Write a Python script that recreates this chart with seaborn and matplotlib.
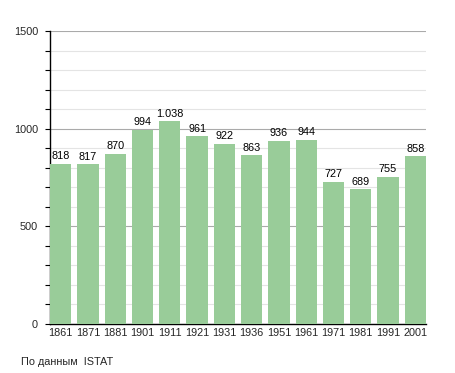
import matplotlib
matplotlib.use("Agg")
import matplotlib.pyplot as plt
import seaborn as sns
import pandas as pd
from matplotlib.ticker import MultipleLocator

years = ["1861", "1871", "1881", "1901", "1911", "1921", "1931", "1936",
         "1951", "1961", "1971", "1981", "1991", "2001"]
population = [818, 817, 870, 994, 1038, 961, 922, 863, 936, 944, 727, 689, 755, 858]
value_labels = ["818", "817", "870", "994", "1.038", "961", "922", "863",
                "936", "944", "727", "689", "755", "858"]
source_text = "По данным  ISTAT"

sns.set_theme(style="white")
plt.rcParams['font.family'] = ['Liberation Sans', 'DejaVu Sans']

df = pd.DataFrame({"year": years, "pop": population})

fig = plt.figure(figsize=(4.55, 3.73), dpi=100)
ax = fig.add_axes([50/455, 1 - 324/373, 376/455, 293/373])

sns.barplot(data=df, x="year", y="pop", color="#99cc99", saturation=1,
            width=0.78, ax=ax, zorder=3, linewidth=0)

ax.set_ylim(0, 1500)
ax.set_xlim(-0.39, 13.39)
ax.yaxis.set_major_locator(MultipleLocator(500))
ax.yaxis.set_minor_locator(MultipleLocator(100))
ax.grid(which="major", axis="y", color="#aaaaaa", linewidth=0.8, zorder=0)
ax.grid(which="minor", axis="y", color="#e4e4e4", linewidth=0.8, zorder=0)
ax.set_axisbelow(True)

for s in ["top", "right"]:
    ax.spines[s].set_visible(False)
for s in ["left", "bottom"]:
    ax.spines[s].set_color("black")
    ax.spines[s].set_linewidth(1.0)

ax.tick_params(axis="y", which="both", direction="out", length=3.6, width=0.8,
               color="black", left=True, labelsize=7.8, pad=5)
ax.tick_params(axis="x", length=0, labelsize=7.8, pad=3)
ax.set_xlabel("")
ax.set_ylabel("")

for i, (v, lab) in enumerate(zip(population, value_labels)):
    ax.text(i, v + 14, lab, ha="center", va="bottom", fontsize=7.8, color="black")

fig.text(21/455, 1 - 362/373, source_text, ha="left", va="center", fontsize=7.8)

fig.savefig("out.png", dpi=100)
